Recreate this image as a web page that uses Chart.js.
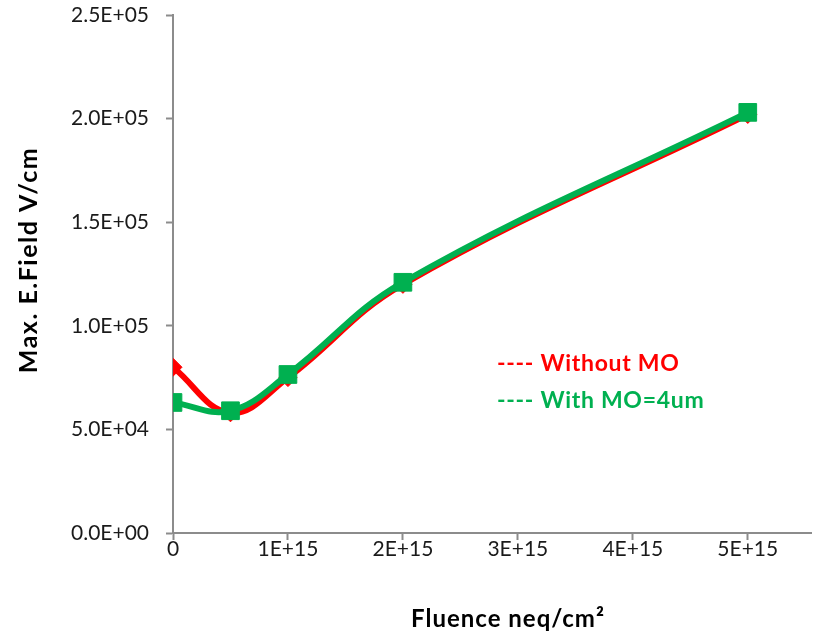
<!DOCTYPE html>
<html>
<head>
<meta charset="utf-8">
<script src="https://cdn.jsdelivr.net/npm/chart.js@4"></script>
<style>
    html, body { margin: 0; padding: 0; background: #fff; }
    #wrap { width: 813px; height: 636px; }
</style>
</head>
<body>
<div id="wrap"><canvas id="fieldChart" width="813" height="636"></canvas></div>
<script>
// fluence points (neq/cm2)
const fluence = [0, 5e14, 1e15, 2e15, 5e15];
// max E-field (V/cm)
const withoutMO = [8.0e4, 5.8e4, 7.5e4, 1.20e5, 2.02e5];
const withMO4um = [6.3e4, 5.9e4, 7.65e4, 1.21e5, 2.03e5];

// axis ticks
const xTicks = [0, 1e15, 2e15, 3e15, 4e15, 5e15];
const xTickLabels = ["0", "1E+15", "2E+15", "3E+15", "4E+15", "5E+15"];
const yTicks = [0, 5e4, 1e5, 1.5e5, 2e5, 2.5e5];
const yTickLabels = ["0.0E+00", "5.0E+04", "1.0E+05", "1.5E+05", "2.0E+05", "2.5E+05"];

const legendLabels = ["---- Without MO", "---- With MO=4um"];
const xTitle = "Fluence neq/cm\u00B2";
const yTitle = "Max. E.Field V/cm";

const X_MAX = 5.55e15;
const RED = "#ff0000";
const GREEN = "#00b050";
const AXIS = "#8c8c8c";
const FONT = "Lato, 'Open Sans', sans-serif";

/* text overlay: axis titles + legend */
const textPlugin = {
    id: "textOverlay",
    afterDraw(chart) {
        const ctx = chart.ctx;
        ctx.save();
        ctx.fillStyle = "#000";
        ctx.textAlign = "center";
        ctx.textBaseline = "alphabetic";
        ctx.font = "bold 24px " + FONT;
        ctx.letterSpacing = "1px";
        ctx.fillText(xTitle, 508, 627);

        ctx.font = "bold 25px " + FONT;
        ctx.letterSpacing = "1.5px";
        ctx.translate(37, 260);
        ctx.rotate(-Math.PI / 2);
        ctx.fillText(yTitle, 0, 0);
        ctx.restore();

        ctx.save();
        ctx.font = "bold 23px " + FONT;
        ctx.letterSpacing = "0.7px";
        ctx.textAlign = "left";
        ctx.textBaseline = "alphabetic";
        ctx.fillStyle = RED;
        ctx.fillText(legendLabels[0], 497, 371);
        ctx.fillStyle = GREEN;
        ctx.fillText(legendLabels[1], 497, 408);
        ctx.restore();
    }
};

const axisGrid = {
    drawOnChartArea: false,
    drawTicks: true,
    tickLength: 7,
    tickWidth: 2,
    color: AXIS
};

new Chart(document.getElementById("fieldChart"), {
    type: "line",
    data: {
        datasets: [
            {
                label: "With MO=4um",
                data: fluence.map((x, i) => ({ x: x, y: withMO4um[i] })),
                borderColor: GREEN,
                backgroundColor: GREEN,
                borderWidth: 6,
                tension: 0.4,
                pointStyle: "rect",
                pointRadius: 12.5,
                pointBorderWidth: 1,
                pointBorderColor: GREEN,
                fill: false,
                order: 1
            },
            {
                label: "Without MO",
                data: fluence.map((x, i) => ({ x: x, y: withoutMO[i] })),
                borderColor: RED,
                backgroundColor: RED,
                borderWidth: 6,
                tension: 0.4,
                pointStyle: "rectRot",
                pointRadius: 9,
                pointBorderWidth: 1,
                pointBorderColor: RED,
                fill: false,
                order: 2
            }
        ]
    },
    options: {
        responsive: false,
        animation: false,
        layout: { autoPadding: false, padding: { left: 0, right: 2, top: 15, bottom: 0 } },
        plugins: {
            legend: { display: false },
            tooltip: { enabled: false }
        },
        scales: {
            x: {
                type: "linear",
                min: 0,
                max: X_MAX,
                bounds: "data",
                grid: axisGrid,
                border: { display: true, color: AXIS, width: 2 },
                ticks: {
                    padding: -3,
                    color: "#1a1a1a",
                    font: { family: FONT, size: 21 },
                    callback: v => xTickLabels[xTicks.indexOf(v)]
                },
                afterBuildTicks: s => {
                    s.ticks = xTicks.map(v => ({ value: v }));
                },
                afterFit: s => { s.height = 103; s.paddingLeft = 0; s.paddingRight = 0; }
            },
            y: {
                min: 0,
                max: 2.5e5,
                bounds: "data",
                grid: axisGrid,
                border: { display: true, color: AXIS, width: 2 },
                ticks: {
                    padding: 17,
                    color: "#1a1a1a",
                    font: { family: FONT, size: 21 },
                    callback: v => yTickLabels[yTicks.indexOf(v)]
                },
                afterBuildTicks: s => {
                    s.ticks = yTicks.map(v => ({ value: v }));
                },
                afterFit: s => { s.width = 173; s.paddingTop = 0; s.paddingBottom = 0; }
            }
        }
    },
    plugins: [textPlugin]
});
</script>
</body>
</html>
